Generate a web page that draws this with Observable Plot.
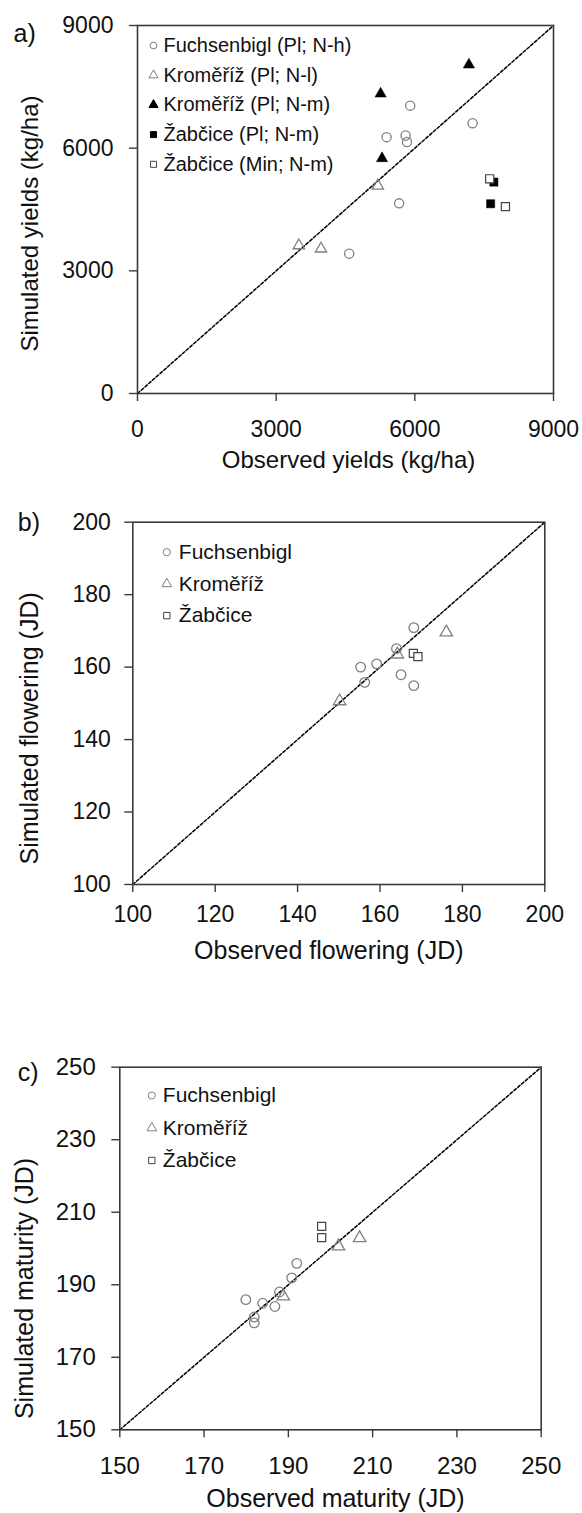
<!DOCTYPE html>
<html><head><meta charset="utf-8">
<script src="https://cdn.jsdelivr.net/npm/d3@7"></script>
<script src="https://cdn.jsdelivr.net/npm/@observablehq/plot@0.6"></script>
<style>
body{margin:0;background:#fff;}
#wrap{position:relative;width:582px;height:1513px;background:#fff;overflow:hidden;}
.panel{position:absolute;left:0;}
</style></head><body><div id="wrap"></div>
<script>
// ---------- Panel a: yields ----------
const yieldTicks = [0, 3000, 6000, 9000];
const yieldLegend = ["Fuchsenbigl (Pl; N-h)", "Kroměříž (Pl; N-l)", "Kroměříž (Pl; N-m)", "Žabčice (Pl; N-m)", "Žabčice (Min; N-m)"];
const yieldFuchsObs = [5900, 7250, 5390, 5800, 5830, 5660, 4580];
const yieldFuchsSim = [7040, 6610, 6270, 6310, 6150, 4650, 3420];
const yieldKromLObs = [5200, 3490, 3970];
const yieldKromLSim = [5080, 3620, 3540];
const yieldKromMObs = [7170, 5260, 5290];
const yieldKromMSim = [8040, 7330, 5750];
const yieldZabPlObs = [7640, 7710];
const yieldZabPlSim = [4640, 5170];
const yieldZabMinObs = [7620, 7960];
const yieldZabMinSim = [5250, 4570];

// ---------- Panel b: flowering ----------
const flowTicks = [100, 120, 140, 160, 180, 200];
const siteLegend = ["Fuchsenbigl", "Kroměříž", "Žabčice"];
const flowFuchsObs = [168.2, 164.0, 155.3, 159.2, 156.3, 165.1, 168.2];
const flowFuchsSim = [170.9, 165.1, 160.0, 160.9, 155.8, 157.9, 154.9];
const flowKromObs = [176.1, 164.2, 150.2];
const flowKromSim = [169.6, 163.5, 150.6];
const flowZabObs = [168.1, 169.2];
const flowZabSim = [163.8, 162.9];

// ---------- Panel c: maturity ----------
const matTicks = [150, 170, 190, 210, 230, 250];
const matFuchsObs = [192.0, 190.8, 187.9, 186.8, 183.9, 179.9, 181.9, 181.9];
const matFuchsSim = [195.9, 191.9, 188.0, 184.0, 184.9, 185.9, 181.1, 179.5];
const matKromObs = [206.9, 201.9, 188.8];
const matKromSim = [202.9, 200.6, 186.8];
const matZabObs = [197.9, 197.9];
const matZabSim = [206.1, 203.0];

const GREY = "#808080";
const DARK = "#3a3a3a";
const FONT = "Arial, 'Liberation Sans', sans-serif";

function pairs(xs, ys) { return xs.map((x, i) => ({x, y: ys[i]})); }

const styles = {
  circle: {symbol: "circle", stroke: GREY, fill: "none", strokeWidth: 1.3},
  tri: {symbol: "triangle", stroke: GREY, fill: "none", strokeWidth: 1.3},
  triFill: {symbol: "triangle", stroke: "#000", fill: "#000", strokeWidth: 0.5},
  sqFill: {symbol: "square", stroke: "#000", fill: "#000", strokeWidth: 0.5},
  sq: {symbol: "square", stroke: "#444", fill: "#fff", strokeWidth: 1.2}
};

function panel(cfg) {
  const marks = [];
  const lo = cfg.ticks[0], hi = cfg.ticks[cfg.ticks.length - 1];
  // 1:1 line
  marks.push(Plot.line([{x: lo, y: lo}, {x: hi, y: hi}],
    {x: "x", y: "y", stroke: "#000", strokeWidth: 1.5, strokeDasharray: "3,2"}));
  // series
  for (const s of cfg.series) {
    const st = styles[s.style];
    marks.push(Plot.dot(pairs(s.obs, s.sim), {x: "x", y: "y", r: s.r, ...st}));
  }
  // legend
  cfg.legend.forEach((lab, i) => {
    const st = styles[cfg.legendStyles[i]];
    marks.push(Plot.dot([lab], {frameAnchor: "top-left", dx: cfg.leg.symDx, dy: cfg.leg.dy0 + i * cfg.leg.step, r: cfg.leg.r, ...st, strokeWidth: 1}));
    marks.push(Plot.text([lab], {text: d => d, frameAnchor: "top-left", dx: cfg.leg.textDx, dy: cfg.leg.dy0 + i * cfg.leg.step,
      textAnchor: "start", lineAnchor: "middle", fontSize: cfg.leg.fontSize, fill: "#111"}));
  });
  // frame & axes
  marks.push(Plot.frame({stroke: DARK, strokeWidth: 1.6}));
  marks.push(Plot.axisX(cfg.ticks, {tickSize: 8, tickPadding: cfg.xPad, fontSize: cfg.tickFont, tickFormat: d => String(d), label: null, stroke: DARK, strokeWidth: 1.4, fill: "#111"}));
  marks.push(Plot.axisY(cfg.ticks, {tickSize: 8, tickPadding: cfg.yPad, fontSize: cfg.tickFont, tickFormat: d => String(d), label: null, stroke: DARK, strokeWidth: 1.4, fill: "#111"}));
  // titles
  marks.push(Plot.text([cfg.xTitle], {text: d => d, frameAnchor: "bottom", textAnchor: "middle", dx: cfg.xTitleDx, dy: cfg.xTitleDy, lineAnchor: "bottom", fontSize: cfg.titleFont, fill: "#111"}));
  marks.push(Plot.text([cfg.yTitle], {text: d => d, frameAnchor: "left", textAnchor: "middle", rotate: -90, dx: cfg.yTitleDx, dy: cfg.yTitleDy, lineAnchor: "middle", fontSize: cfg.titleFont, fill: "#111"}));
  marks.push(Plot.text([cfg.tag], {text: d => d, frameAnchor: "top-left", dx: cfg.tagDx, dy: cfg.tagDy, textAnchor: "start", lineAnchor: "bottom", fontSize: 25, fill: "#111"}));

  const svg = Plot.plot({
    width: 582, height: cfg.height,
    marginTop: cfg.mt, marginBottom: cfg.mb, marginLeft: cfg.ml, marginRight: cfg.mr,
    x: {domain: [lo, hi]},
    y: {domain: [lo, hi]},
    style: {fontFamily: FONT, background: "#fff", color: "#111", overflow: "visible"},
    marks
  });
  svg.classList.add("panel");
  svg.style.top = cfg.top + "px";
  return svg;
}

const wrap = document.getElementById("wrap");

wrap.appendChild(panel({
  top: 0, height: 490, mt: 25, mb: 97, ml: 137, mr: 29,
  ticks: yieldTicks, tickFont: 23, titleFont: 24, xPad: 19, yPad: 16,
  xTitle: "Observed yields (kg/ha)", yTitle: "Simulated yields (kg/ha)",
  xTitleDx: 3, xTitleDy: 74, yTitleDx: -107, yTitleDy: 14,
  tag: "a)", tagDx: -124, tagDy: 16,
  legend: yieldLegend, legendStyles: ["circle", "tri", "triFill", "sqFill", "sq"],
  leg: {symDx: 16, textDx: 26, dy0: 20, step: 29.7, r: 3.4, fontSize: 20},
  series: [
    {obs: yieldFuchsObs, sim: yieldFuchsSim, style: "circle", r: 4.6},
    {obs: yieldKromLObs, sim: yieldKromLSim, style: "tri", r: 4.2},
    {obs: yieldKromMObs, sim: yieldKromMSim, style: "triFill", r: 4.2},
    {obs: yieldZabPlObs, sim: yieldZabPlSim, style: "sqFill", r: 4.6},
    {obs: yieldZabMinObs, sim: yieldZabMinSim, style: "sq", r: 4.6}
  ]
}));

wrap.appendChild(panel({
  top: 490, height: 490, mt: 31.7, mb: 96, ml: 132.3, mr: 37.7,
  ticks: flowTicks, tickFont: 23, titleFont: 25, xPad: 13, yPad: 14,
  xTitle: "Observed flowering (JD)", yTitle: "Simulated flowering (JD)",
  xTitleDx: -10, xTitleDy: 74, yTitleDx: -103, yTitleDy: 25,
  tag: "b)", tagDx: -115, tagDy: 9,
  legend: siteLegend, legendStyles: ["circle", "tri", "sq"],
  leg: {symDx: 34, textDx: 46, dy0: 30, step: 31.7, r: 3.6, fontSize: 21},
  series: [
    {obs: flowFuchsObs, sim: flowFuchsSim, style: "circle", r: 4.8},
    {obs: flowKromObs, sim: flowKromSim, style: "tri", r: 4.6},
    {obs: flowZabObs, sim: flowZabSim, style: "sq", r: 4.6}
  ]
}));

wrap.appendChild(panel({
  top: 1000, height: 513, mt: 66.7, mb: 83.7, ml: 119.3, mr: 41.3,
  ticks: matTicks, tickFont: 24, titleFont: 25, xPad: 19, yPad: 16,
  xTitle: "Observed maturity (JD)", yTitle: "Simulated maturity (JD)",
  xTitleDx: 5, xTitleDy: 77, yTitleDx: -95, yTitleDy: 40,
  tag: "c)", tagDx: -102, tagDy: 14,
  legend: siteLegend, legendStyles: ["circle", "tri", "sq"],
  leg: {symDx: 32, textDx: 43, dy0: 28.3, step: 32.5, r: 3.6, fontSize: 21},
  series: [
    {obs: matFuchsObs, sim: matFuchsSim, style: "circle", r: 4.8},
    {obs: matKromObs, sim: matKromSim, style: "tri", r: 4.6},
    {obs: matZabObs, sim: matZabSim, style: "sq", r: 4.6}
  ]
}));
</script></body></html>
